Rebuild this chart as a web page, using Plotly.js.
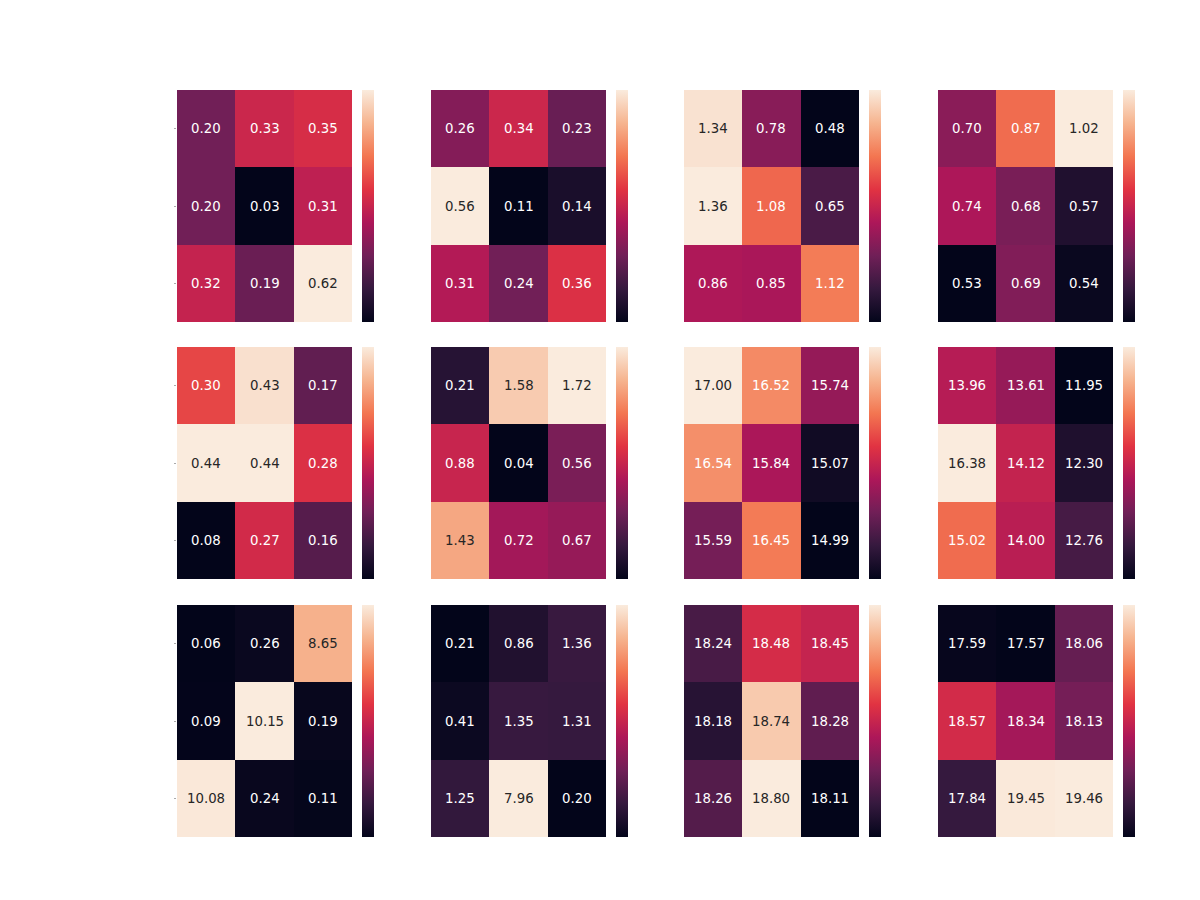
<!DOCTYPE html>
<html>
<head>
<meta charset="utf-8">
<script src="https://cdn.plot.ly/plotly-3.0.1.min.js"></script>
<style>html,body{margin:0;padding:0;background:#fff;}#chart{width:1200px;height:900px;}</style>
</head>
<body>
<div id="chart"></div>
<script>
// ---- data (row-major panels, each 3x3, top row first) ----
const xCats = [0, 1, 2];
const yCats = [0, 1, 2];
const panelA = [[0.20,0.33,0.35],[0.20,0.03,0.31],[0.32,0.19,0.62]];
const panelB = [[0.26,0.34,0.23],[0.56,0.11,0.14],[0.31,0.24,0.36]];
const panelC = [[1.34,0.78,0.48],[1.36,1.08,0.65],[0.86,0.85,1.12]];
const panelD = [[0.70,0.87,1.02],[0.74,0.68,0.57],[0.53,0.69,0.54]];
const panelE = [[0.30,0.43,0.17],[0.44,0.44,0.28],[0.08,0.27,0.16]];
const panelF = [[0.21,1.58,1.72],[0.88,0.04,0.56],[1.43,0.72,0.67]];
const panelG = [[17.00,16.52,15.74],[16.54,15.84,15.07],[15.59,16.45,14.99]];
const panelH = [[13.96,13.61,11.95],[16.38,14.12,12.30],[15.02,14.00,12.76]];
const panelI = [[0.06,0.26,8.65],[0.09,10.15,0.19],[10.08,0.24,0.11]];
const panelJ = [[0.21,0.86,1.36],[0.41,1.35,1.31],[1.25,7.96,0.20]];
const panelK = [[18.24,18.48,18.45],[18.18,18.74,18.28],[18.26,18.80,18.11]];
const panelL = [[17.59,17.57,18.06],[18.57,18.34,18.13],[17.84,19.45,19.46]];
const panels = [panelA,panelB,panelC,panelD,panelE,panelF,panelG,panelH,panelI,panelJ,panelK,panelL];

// ---- style ----
const rocket = [
  [0.0, '#03051A'], [1/7, '#35193E'], [2/7, '#701F57'], [3/7, '#AD1759'],
  [4/7, '#E13342'], [5/7, '#F37651'], [6/7, '#F6B48F'], [1.0, '#FAEBDD']
];
const W = 1200, H = 900;
const colX = [177, 431, 684, 938];
const heatW = 175;
const cbOff = 185, cbW = 12;
const rowY = [90, 347, 605];
const heatH = 232;

function hexToRgb(h){ return [parseInt(h.slice(1,3),16), parseInt(h.slice(3,5),16), parseInt(h.slice(5,7),16)]; }
function cmap(t){
  t = Math.max(0, Math.min(1, t));
  for (let i=0;i<rocket.length-1;i++){
    const [t0,c0] = rocket[i], [t1,c1] = rocket[i+1];
    if (t <= t1){
      const f = (t - t0)/(t1 - t0);
      const a = hexToRgb(c0), b = hexToRgb(c1);
      return a.map((v,k)=> v + (b[k]-v)*f);
    }
  }
  return hexToRgb(rocket[rocket.length-1][1]);
}
function lum(rgb){
  const l = rgb.map(v=>{ v/=255; return v <= 0.03928 ? v/12.92 : Math.pow((v+0.055)/1.055, 2.4); });
  return 0.2126*l[0] + 0.7152*l[1] + 0.0722*l[2];
}

const traces = [];
const annotations = [];
const layout = {
  width: W, height: H,
  margin: {l:0, r:0, t:0, b:0},
  paper_bgcolor: '#ffffff', plot_bgcolor: '#ffffff',
  showlegend: false,
  font: {family: 'DejaVu Sans', size: 13.3, color: '#262626'},
  annotations: annotations
};

panels.forEach((z, idx) => {
  const r = Math.floor(idx/4), c = idx % 4;
  const k = idx + 1;
  const xa = k === 1 ? 'x' : 'x' + k;
  const ya = k === 1 ? 'y' : 'y' + k;
  const flat = z.flat();
  const zmin = Math.min(...flat), zmax = Math.max(...flat);
  const x0 = colX[c], y0 = rowY[r];
  traces.push({
    type: 'heatmap', z: z, x: xCats, y: yCats,
    xaxis: xa, yaxis: ya,
    colorscale: rocket, zmin: zmin, zmax: zmax,
    hoverinfo: 'skip',
    colorbar: {
      x: (x0 + cbOff)/W, xanchor: 'left', xpad: 0, ypad: 0,
      y: 1 - (y0 + heatH/2)/H, yanchor: 'middle',
      len: heatH/H, lenmode: 'fraction',
      thickness: cbW, thicknessmode: 'pixels',
      outlinewidth: 0, ticks: '', showticklabels: false
    }
  });
  const axX = {
    domain: [x0/W, (x0+heatW)/W], anchor: ya,
    range: [-0.5, 2.5], showgrid: false, zeroline: false,
    showticklabels: false, ticks: '', showline: false, fixedrange: true
  };
  const axY = {
    domain: [1 - (y0+heatH)/H, 1 - y0/H], anchor: xa,
    range: [2.5, -0.5], showgrid: false, zeroline: false,
    showticklabels: false, showline: false, fixedrange: true,
    tickvals: yCats,
    ticks: c === 0 ? 'outside' : '', ticklen: 2, tickwidth: 1, tickcolor: '#aaaaaa'
  };
  layout['xaxis' + (k === 1 ? '' : k)] = axX;
  layout['yaxis' + (k === 1 ? '' : k)] = axY;
  z.forEach((row, i) => row.forEach((v, j) => {
    const t = (v - zmin)/(zmax - zmin);
    const col = lum(cmap(t)) > 0.408 ? '#262626' : '#ffffff';
    annotations.push({
      xref: xa, yref: ya, x: xCats[j], y: yCats[i],
      text: v.toFixed(2), showarrow: false,
      font: {family: 'DejaVu Sans', size: 13.3, color: col}
    });
  }));
});

Plotly.newPlot('chart', traces, layout, {staticPlot: true, displayModeBar: false});
</script>
</body>
</html>
